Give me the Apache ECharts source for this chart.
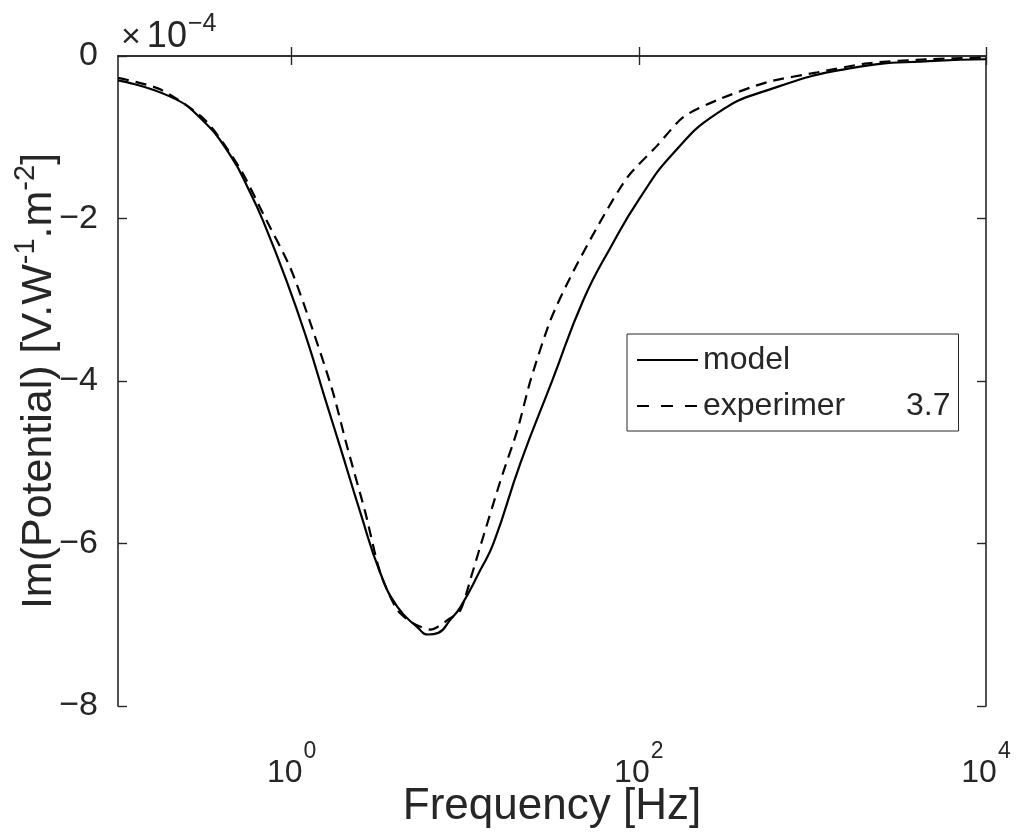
<!DOCTYPE html>
<html>
<head>
<meta charset="utf-8">
<script src="https://cdn.jsdelivr.net/npm/echarts@6/dist/echarts.min.js"></script>
<style>
  html, body { margin: 0; padding: 0; background: #ffffff; }
  #chart { width: 1016px; height: 832px; }
</style>
</head>
<body>
<div id="chart"></div>
<script>
// Imaginary part of the potential response (units of 1e-4 V.W^-1.m^-2) vs frequency (Hz)
const modelFreq = [0.1, 0.2, 0.3, 0.443, 0.577, 0.685, 0.94, 1.23, 1.56, 1.91, 2.49, 3.24, 4.07, 5.3, 6.13, 7.0, 8.2, 9.4, 12.2, 14.6, 20.8, 31.8, 48, 69, 102, 159, 285, 553, 1665, 5010, 10000];
const modelIm   = [-0.30, -0.50, -0.77, -1.22, -1.68, -2.03, -2.78, -3.50, -4.22, -4.82, -5.62, -6.36, -6.78, -7.03, -7.12, -7.10, -6.94, -6.78, -6.33, -5.99, -5.01, -3.99, -3.00, -2.35, -1.74, -1.19, -0.70, -0.42, -0.15, -0.06, -0.04];

const expFreq = [0.1, 0.175, 0.318, 0.506, 0.685, 0.98, 1.28, 1.71, 2.09, 2.66, 3.24, 4.07, 5.0, 6.3, 8.2, 9.4, 11.0, 12.2, 16.0, 20.0, 23.8, 31.0, 40.4, 57.8, 86.1, 128, 181, 285, 553, 1074, 2085, 4634, 10000];
const expIm   = [-0.27, -0.41, -0.79, -1.39, -1.94, -2.60, -3.28, -4.10, -4.81, -5.62, -6.36, -6.82, -6.98, -7.06, -6.92, -6.82, -6.36, -6.04, -5.22, -4.60, -3.99, -3.25, -2.72, -2.10, -1.49, -1.10, -0.75, -0.54, -0.32, -0.20, -0.09, -0.04, -0.02];

const xTickValues = [1, 100, 10000];
const yMin = -8, yMax = 0, yStep = 2;
const seriesNames = ['model', 'experimer'];
const legendSuffix = '3.7';
const exponentLabel = '-4';

const INK = '#262626';
const FONT = 'Liberation Sans, Arial, Helvetica, sans-serif';

const toPairs = (xs, ys) => xs.map((x, i) => [x, ys[i]]);
const minus = s => String(s).replace('-', '\u2212');

const chart = echarts.init(document.getElementById('chart'), null, { renderer: 'canvas' });

const axisLine = { show: true, lineStyle: { color: INK, width: 1.6 } };
const tickStyle = { color: INK, width: 1.4 };
const txt = (size, extra) => Object.assign({ fontSize: size, fontFamily: FONT, fontWeight: 'normal', color: INK }, extra || {});

chart.setOption({
  animation: false,
  backgroundColor: '#ffffff',
  textStyle: { fontFamily: FONT, color: INK },
  title: {
    text: '{x|\u00d7}{m|10}{s|' + minus(exponentLabel) + '}',
    left: 121,
    top: 12,
    padding: 0,
    textStyle: {
      fontWeight: 'normal',
      rich: {
        x: txt(34, { verticalAlign: 'bottom', padding: [0, 6, 0, 0] }),
        m: txt(36, { verticalAlign: 'bottom' }),
        s: txt(25, { verticalAlign: 'bottom', padding: [0, 0, 18, 1] })
      }
    }
  },
  grid: { left: 118, right: 30, top: 56, bottom: 126, containLabel: false, outerBoundsMode: 'none' },
  legend: {
    orient: 'vertical',
    left: 627,
    top: 334,
    padding: [10, 8, 9, 9],
    itemGap: 14,
    itemWidth: 61,
    itemHeight: 30,
    backgroundColor: '#ffffff',
    borderColor: INK,
    borderWidth: 1,
    itemStyle: { opacity: 0 },
    data: [
      { name: seriesNames[0] },
      { name: seriesNames[1], lineStyle: { type: [12, 12] } }
    ],
    formatter: name => name === seriesNames[1]
      ? '{n|' + name + '}{v|' + legendSuffix + '}'
      : '{n|' + name + '}',
    textStyle: {
      rich: {
        n: txt(32, { width: 203, lineHeight: 30 }),
        v: txt(32, { lineHeight: 30 })
      }
    }
  },
  xAxis: [
    {
      type: 'log',
      logBase: 10,
      min: 0.1,
      max: 10000,
      position: 'bottom',
      name: 'Frequency [Hz]',
      nameLocation: 'middle',
      nameGap: 79,
      nameMoveOverlap: false,
      nameTextStyle: txt(44),
      axisLine: axisLine,
      axisTick: { show: true, inside: true, length: 9, lineStyle: tickStyle, customValues: xTickValues },
      minorTick: { show: false },
      splitLine: { show: false },
      axisLabel: {
        customValues: xTickValues,
        margin: 34,
        formatter: v => '{b|10}{s|' + Math.round(Math.log10(v)) + '}',
        rich: {
          b: txt(32, { verticalAlign: 'bottom' }),
          s: txt(23, { verticalAlign: 'bottom', padding: [0, 0, 26, 1] })
        }
      }
    },
    {
      type: 'log',
      logBase: 10,
      min: 0.1,
      max: 10000,
      position: 'top',
      axisLine: axisLine,
      axisTick: { show: true, inside: true, length: 9, lineStyle: tickStyle, customValues: xTickValues },
      axisLabel: { show: false },
      splitLine: { show: false }
    }
  ],
  yAxis: [
    {
      type: 'value',
      min: yMin,
      max: yMax,
      interval: yStep,
      position: 'left',
      name: '{t|Im(Potential) [V.W}{s|-1}{t|.m}{s|-2}{t|]}',
      nameLocation: 'middle',
      nameRotate: 90,
      nameGap: 57,
      nameMoveOverlap: false,
      nameTextStyle: {
        rich: {
          t: txt(43, { verticalAlign: 'bottom' }),
          s: txt(29, { verticalAlign: 'bottom', padding: [0, 0, 21, 0] })
        }
      },
      axisLine: axisLine,
      axisTick: { show: true, inside: true, length: 9, lineStyle: tickStyle },
      splitLine: { show: false },
      axisLabel: Object.assign(txt(34), {
        margin: 20,
        formatter: v => v === 0 ? '0' : minus(v)
      })
    },
    {
      type: 'value',
      min: yMin,
      max: yMax,
      interval: yStep,
      position: 'right',
      axisLine: axisLine,
      axisTick: { show: true, inside: true, length: 9, lineStyle: tickStyle },
      axisLabel: { show: false },
      splitLine: { show: false }
    }
  ],
  series: [
    {
      name: seriesNames[0],
      type: 'line',
      xAxisIndex: 0,
      yAxisIndex: 0,
      data: toPairs(modelFreq, modelIm),
      symbol: 'none',
      smooth: 0.5,
      lineStyle: { color: '#000000', width: 2.2, type: 'solid' },
      itemStyle: { color: '#000000' },
      z: 3
    },
    {
      name: seriesNames[1],
      type: 'line',
      xAxisIndex: 0,
      yAxisIndex: 0,
      data: toPairs(expFreq, expIm),
      symbol: 'none',
      smooth: 0.25,
      lineStyle: { color: '#000000', width: 2.2, type: [11, 7] },
      itemStyle: { color: '#000000' },
      z: 2
    }
  ]
});
</script>
</body>
</html>
